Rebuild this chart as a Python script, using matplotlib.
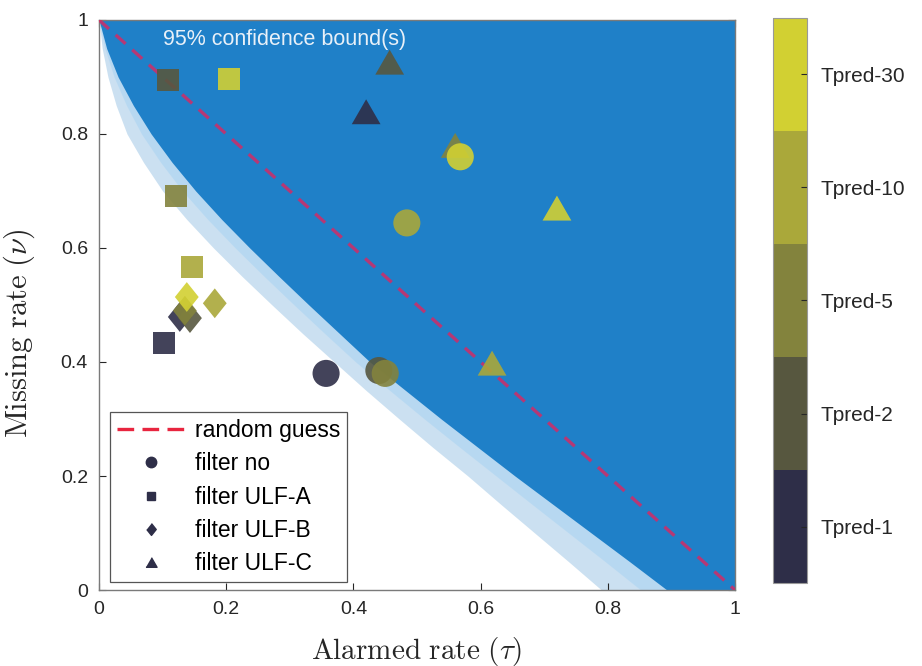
import numpy as np
import matplotlib
matplotlib.use('Agg')
import matplotlib.pyplot as plt
import matplotlib.colors as mcolors
from matplotlib.lines import Line2D

plt.rcParams['font.family'] = ['Liberation Sans', 'DejaVu Sans']
plt.rcParams['mathtext.fontset'] = 'cm'

# lead-time classes and their colours
tpred_labels = ['Tpred-1', 'Tpred-2', 'Tpred-5', 'Tpred-10', 'Tpred-30']
tpred_colors = ['#2e2e48', '#57573f', '#83833d', '#aaa83a', '#d2d032']

# (alarmed rate, missing rate) per filter, one point per Tpred class
no_tau = [0.357, 0.440, 0.450, 0.484, 0.568]
no_nu = [0.380, 0.385, 0.380, 0.644, 0.760]
ulfa_tau = [0.102, 0.108, 0.121, 0.146, 0.204]
ulfa_nu = [0.433, 0.895, 0.691, 0.567, 0.896]
ulfb_tau = [0.127, 0.143, 0.135, 0.182, 0.138]
ulfb_nu = [0.479, 0.477, 0.490, 0.503, 0.514]
ulfc_tau = [0.420, 0.457, 0.560, 0.618, 0.720]
ulfc_nu = [0.839, 0.926, 0.780, 0.398, 0.670]

# 95% confidence bounds: alarmed rate at each missing rate
bound_nu = [1.0, 0.95, 0.9, 0.85, 0.8, 0.75, 0.7, 0.65, 0.6, 0.55, 0.5,
            0.45, 0.4, 0.35, 0.3, 0.25, 0.2, 0.15, 0.1, 0.05, 0.0]
bound_outer = [0.0, 0.005, 0.014, 0.027, 0.044, 0.07, 0.1, 0.138, 0.18, 0.225, 0.272,
               0.32, 0.37, 0.42, 0.472, 0.525, 0.58, 0.632, 0.685, 0.738, 0.79]
bound_inner = [0.0, 0.012, 0.03, 0.054, 0.082, 0.115, 0.152, 0.193, 0.237, 0.283, 0.33,
               0.378, 0.426, 0.482, 0.538, 0.596, 0.654, 0.714, 0.774, 0.834, 0.893]

fig = plt.figure(figsize=(9.22, 6.66), dpi=100)
ax = fig.add_axes([0.1074, 0.1141, 0.6898, 0.8559])
cax = fig.add_axes([0.838, 0.1246, 0.037, 0.8484])

outer = np.array(bound_outer)
inner = np.array(bound_inner)
mid = outer + 0.6 * (inner - outer)

blue = '#1f80c8'
ax.fill_betweenx(bound_nu, outer, 1.05, color='#7fb3dc', alpha=0.4, lw=0, zorder=1)
ax.fill_betweenx(bound_nu, mid, 1.05, color='#a5d2f2', alpha=0.5, lw=0, zorder=1)
ax.fill_betweenx(bound_nu, inner, 1.05, color=blue, lw=0, zorder=2)
ax.text(0.1, 0.965, '95% confidence bound(s)', color='#e8f0f8', fontsize=15.5,
        ha='left', va='center', zorder=3)

ax.plot([0, 1], [1, 0], ls=(0, (4, 2.7)), color='#e8205a', alpha=0.75, lw=2.4, zorder=4)

cmap = mcolors.ListedColormap(tpred_colors)
norm = mcolors.BoundaryNorm(np.arange(6), cmap.N)
cls = np.arange(5)

tri = [(-1, -0.866), (1, -0.866), (0, 0.866)]
dia = [(0, 1), (0.8, 0), (0, -1), (-0.8, 0)]

kw = dict(c=cls, cmap=cmap, norm=norm, alpha=0.9, edgecolors='none', zorder=5)
ax.scatter(ulfa_tau, ulfa_nu, marker='s', s=250, **kw)
ax.scatter(ulfb_tau, ulfb_nu, marker=dia, s=460, **kw)
ax.scatter(ulfc_tau, ulfc_nu, marker=tri, s=430, **kw)
sc = ax.scatter(no_tau, no_nu, marker='o', s=380, **kw)

ax.set_xlim(0, 1)
ax.set_ylim(0, 1)
ax.set_xticks([0, 0.2, 0.4, 0.6, 0.8, 1])
ax.set_xticklabels(['0', '0.2', '0.4', '0.6', '0.8', '1'])
ax.set_yticks([0, 0.2, 0.4, 0.6, 0.8, 1])
ax.set_yticklabels(['0', '0.2', '0.4', '0.6', '0.8', '1'])
ax.tick_params(direction='in', length=5, labelsize=14, colors='#262626',
               top=True, right=True, pad=8)
for s in ax.spines.values():
    s.set_color('#7a7a7a')
    s.set_linewidth(1.0)
ax.set_xlabel(r'$\mathrm{Alarmed\ rate}\ (\tau)$', fontsize=21, color='#262626', labelpad=12)
ax.set_ylabel(r'$\mathrm{Missing\ rate}\ (\nu)$', fontsize=22, color='#262626')
ax.yaxis.set_label_coords(-0.097, 0.45)

mk = '#2e2e48'
handles = [
    Line2D([], [], ls=(0, (5, 2.5)), color='#e8253f', lw=2.4),
    Line2D([], [], ls='none', marker='o', color=mk, ms=7.5),
    Line2D([], [], ls='none', marker='s', color=mk, ms=6),
    Line2D([], [], ls='none', marker=dia, color=mk, ms=8.5),
    Line2D([], [], ls='none', marker=tri, color=mk, ms=8),
]
labels = ['random guess', 'filter no', 'filter ULF-A', 'filter ULF-B', 'filter ULF-C']
leg = ax.legend(handles, labels, loc='lower left', bbox_to_anchor=(0.017, 0.014),
                fontsize=16.5, frameon=True, fancybox=False, framealpha=1,
                edgecolor='#555555', handlelength=3.0, handletextpad=0.4,
                labelspacing=0.45, borderpad=0.3, borderaxespad=0)
leg.get_frame().set_linewidth(0.9)
leg.set_zorder(10)

cb = fig.colorbar(sc, cax=cax, ticks=np.arange(5) + 0.5)
cb.solids.set_alpha(1)
cb.set_ticklabels(tpred_labels)
cb.ax.minorticks_off()
cb.ax.tick_params(labelsize=15, length=4, direction='in', colors='#262626', pad=10)
cb.outline.set_edgecolor('#999999')

fig.savefig('out.png', dpi=100)
